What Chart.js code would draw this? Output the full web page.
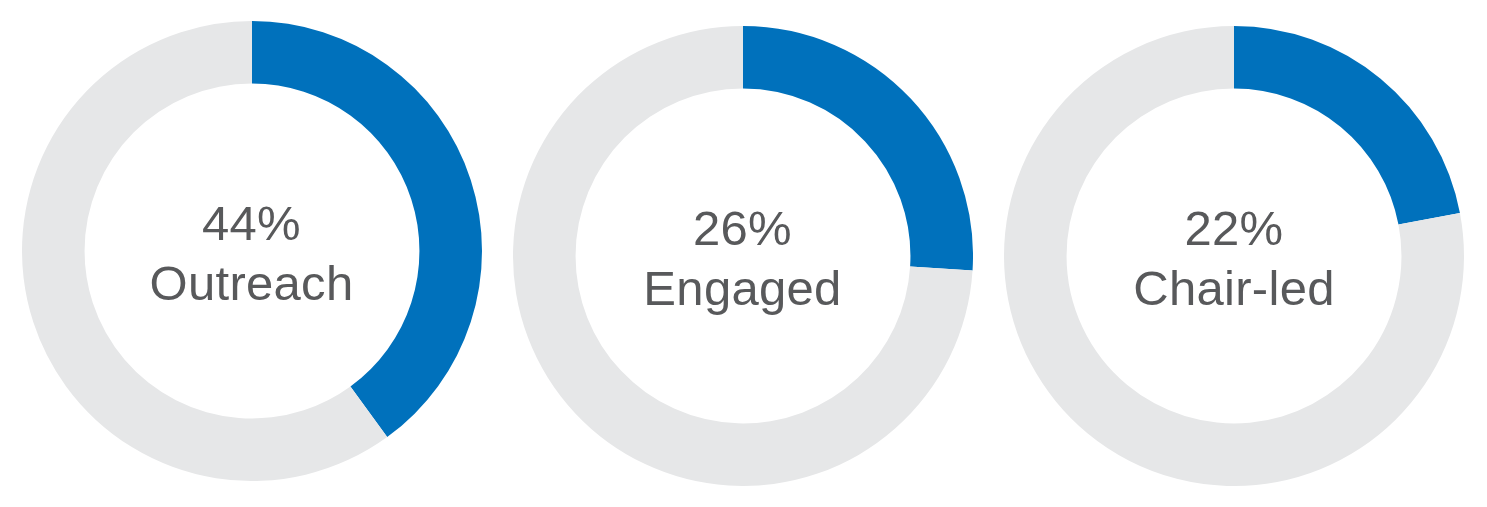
<!DOCTYPE html>
<html>
<head>
<meta charset="utf-8">
<script src="https://cdn.jsdelivr.net/npm/chart.js@4/dist/chart.umd.min.js"></script>
<style>
  html, body { margin: 0; padding: 0; background: #fff; }
  body { width: 1487px; height: 507px; position: relative; overflow: hidden; }
  .ring { position: absolute; width: 460px; height: 460px; }
  .ring canvas { position: absolute; left: 0; top: 0; }
  .label {
    position: absolute; left: 0; width: 100%; top: 172px;
    text-align: center; font-family: "Liberation Sans", Arial, sans-serif;
    font-size: 49px; line-height: 60px; color: #58595b; letter-spacing: 0.3px;
  }
</style>
</head>
<body>
<script>
// values
var categories = ["Outreach", "Engaged", "Chair-led"];
var percentLabels = ["44%", "26%", "22%"];
var arcValues = [40, 26, 22];   // share of ring drawn blue
var centers = [[251.5, 251], [742.5, 256], [1234, 256]];

const blue = "#0071bc";
const grey = "#e6e7e8";

categories.forEach((cat, i) => {
    var box = document.createElement("div");
    box.className = "ring";
    box.style.left = (centers[i][0] - 230) + "px";
    box.style.top = (centers[i][1] - 230) + "px";
    var cv = document.createElement("canvas");
    box.appendChild(cv);
    var lbl = document.createElement("div");
    lbl.className = "label";
    lbl.innerHTML = percentLabels[i] + "<br>" + cat;
    box.appendChild(lbl);
    document.body.appendChild(box);

    new Chart(cv.getContext("2d"), {
        type: "doughnut",
        data: {
            labels: [cat, "Other"],
            datasets: [{
                data: [arcValues[i], 100 - arcValues[i]],
                backgroundColor: [blue, grey],
                borderWidth: 0
            }]
        },
        options: {
            responsive: true,
            maintainAspectRatio: false,
            animation: false,
            cutout: "72.8%",
            layout: { padding: 0 },
            plugins: { legend: { display: false }, tooltip: { enabled: false } }
        }
    });
});
</script>
</body>
</html>
